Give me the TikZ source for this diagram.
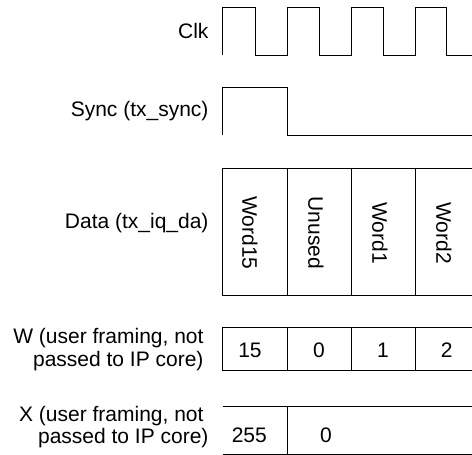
\documentclass[tikz,border=0pt]{standalone}
\usepackage{fontspec}
\setmainfont{Liberation Sans}
\begin{document}
\begin{tikzpicture}[x=1pt,y=-1pt,line width=1pt,
  lbl/.style={anchor=base east,inner sep=0pt,font=\fontsize{21}{23}\selectfont},
  val/.style={anchor=base,inner sep=0pt,font=\fontsize{21}{23}\selectfont},
  word/.style={rotate=-90,anchor=center,inner sep=0pt,font=\fontsize{21}{23}\selectfont}]
\useasboundingbox (0,0) rectangle (472,455);
% labels
\node[lbl] (clk) at (209,38.5) {Clk};
\node[lbl] (sync) at (209,116.5) {Sync (tx\_sync)};
\node[lbl] (data) at (209,228.5) {Data (tx\_iq\_da)};
\node[lbl] (w1) at (204,343.3) {W (user framing, not};
\node[lbl] (w2) at (204,366) {passed to IP core)};
\node[lbl] (x1) at (204,421.7) {X (user framing, not};
\node[lbl] (x2) at (209,443.3) {passed to IP core)};
% clock
\draw (222.7,55) -- (222.7,7.3) -- (255.7,7.3) -- (255.7,55) -- (287.3,55) -- (287.3,7.3)
  -- (319.3,7.3) -- (319.3,55) -- (351,55) -- (351,7.3) -- (383.3,7.3) -- (383.3,55)
  -- (415,55) -- (415,7.3) -- (446.7,7.3) -- (446.7,55) -- (472,55);
% sync
\draw (222.7,135) -- (222.7,87.7) -- (287,87.7) -- (287,135) -- (472,135);
% data
\draw (472,168.3) -- (222.7,168.3) -- (222.7,295) -- (472,295);
\foreach \x in {287.3,351,415.3} \draw (\x,168.3) -- (\x,295);
\node[word] (d1) at (250,233) {Word15};
\node[word] (d2) at (316,233) {Unused};
\node[word] (d3) at (380,233) {Word1};
\node[word] (d4) at (444,233) {Word2};
% W
\draw (472,327.7) -- (222.7,327.7) -- (222.7,370.7) -- (472,370.7);
\foreach \x in {287.3,351,415.3} \draw (\x,327.7) -- (\x,370.7);
\node[val] (wa) at (250,357.3) {15};
\node[val] (wb) at (319,357.3) {0};
\node[val] (wc) at (383,357.3) {1};
\node[val] (wd) at (446.7,357.3) {2};
% X
\draw (222.7,406.7) -- (472,406.7);
\draw (222.7,454) -- (472,454);
\draw (287.3,406.7) -- (287.3,454);
\node[val] (xa) at (249.3,442.3) {255};
\node[val] (xb) at (326,442.3) {0};
\end{tikzpicture}
\end{document}
